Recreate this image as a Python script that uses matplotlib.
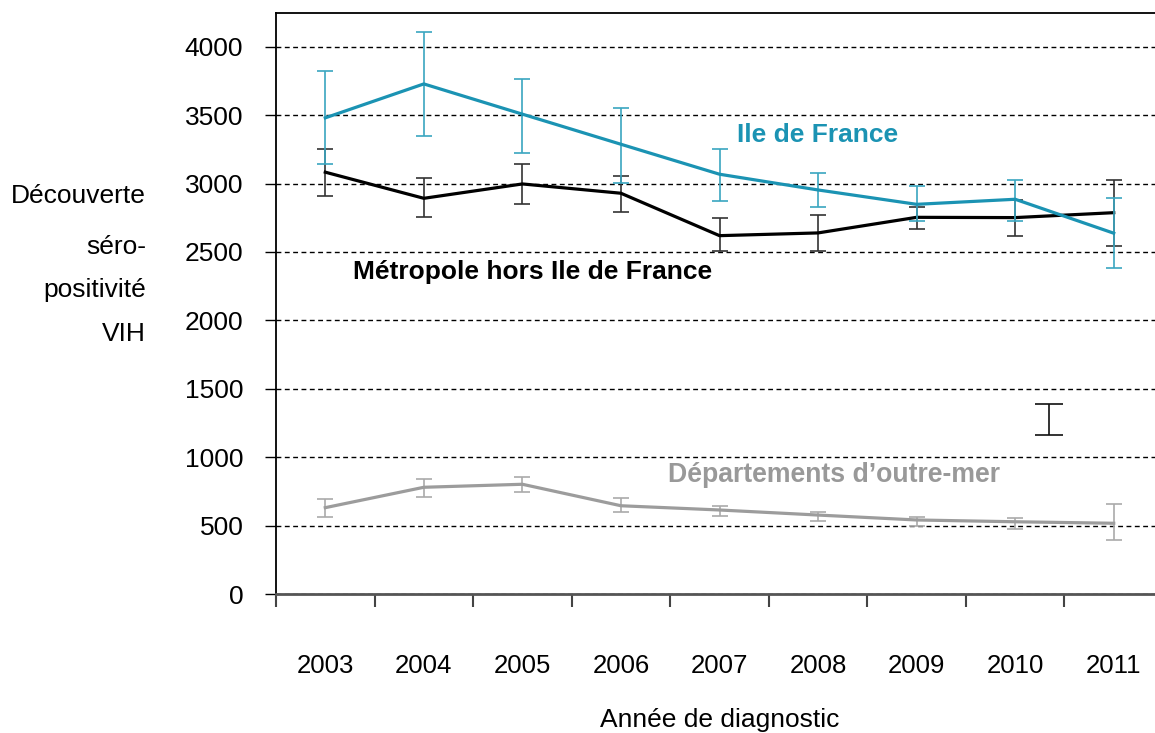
import numpy as np
import matplotlib.pyplot as plt

plt.rcParams['font.family'] = ['Liberation Sans', 'DejaVu Sans']

years = ["2003", "2004", "2005", "2006", "2007", "2008", "2009", "2010", "2011"]

idf = [3480, 3728, 3507, 3287, 3068, 2953, 2848, 2885, 2637]
idf_hi = [3823, 4110, 3762, 3550, 3255, 3077, 2985, 3026, 2895]
idf_lo = [3141, 3350, 3221, 3007, 2873, 2829, 2724, 2729, 2381]

metro = [3083, 2892, 2997, 2929, 2619, 2639, 2753, 2751, 2787]
metro_hi = [3256, 3043, 3143, 3053, 2751, 2768, 2831, 2880, 3026]
metro_lo = [2907, 2754, 2853, 2795, 2510, 2505, 2670, 2619, 2544]

dom = [631, 780, 802, 645, 614, 577, 541, 528, 517]
dom_hi = [697, 841, 858, 704, 641, 602, 565, 558, 656]
dom_lo = [563, 709, 748, 602, 572, 534, 499, 475, 393]

# stray error bar drawn alone on the chart
stray_x = [7.34]
stray_y = [1275]
stray_err = [112]

x = np.arange(len(years))

fig = plt.figure(figsize=(11.55, 7.33), dpi=100)
ax = fig.add_axes([276 / 1155, 139 / 733, 887 / 1155, 581.5 / 733])

def draw(vals, hi, lo, line_c, err_c, z):
    vals = np.array(vals)
    yerr = [vals - np.array(lo), np.array(hi) - vals]
    ax.errorbar(x, vals, yerr=yerr, fmt='none', ecolor=err_c, elinewidth=1.2,
                capsize=6, capthick=1.2, zorder=z)
    ax.plot(x, vals, color=line_c, lw=2.3, zorder=z + 0.5)

draw(dom, dom_hi, dom_lo, '#9c9c9c', '#aaaaaa', 3)
draw(metro, metro_hi, metro_lo, '#000000', '#333333', 4)
draw(idf, idf_hi, idf_lo, '#1b93b3', '#3aa6c0', 5)

ax.errorbar(stray_x, stray_y, yerr=stray_err, fmt='none', ecolor='#111111',
            elinewidth=1.2, capsize=10, capthick=1.2)

ax.text(4.175, 3355, "Ile de France", color='#1b93b3', fontsize=19,
        fontweight='bold', ha='left', va='center')
ax.text(0.28, 2354, "Métropole hors Ile de France", color='black', fontsize=19,
        fontweight='bold', ha='left', va='center')
ax.text(3.476, 870, "Départements d\u2019outre-mer", color='#999999', fontsize=19.2,
        fontweight='bold', ha='left', va='center')

ax.set_xlim(-0.5, 8.5)
ax.set_ylim(0, 4250)
ax.set_yticks(range(0, 4001, 500))
ax.yaxis.grid(True, ls=(0, (3.5, 2.5)), color='black', lw=1)
ax.set_axisbelow(True)
ax.tick_params(axis='y', length=8, width=1, direction='out', pad=15.5, labelsize=19)

ax.set_xticks(x)
ax.set_xticklabels(years)
ax.set_xticks(np.arange(-0.5, 9, 1), minor=True)
ax.tick_params(axis='x', which='major', length=0, pad=43, labelsize=18.5)
ax.tick_params(axis='x', which='minor', length=9, width=1.5, color='#444444')

for s in ['left', 'top']:
    ax.spines[s].set_color('black')
    ax.spines[s].set_linewidth(1.3)
ax.spines['bottom'].set_color('#555555')
ax.spines['bottom'].set_linewidth(2)
ax.spines['right'].set_visible(False)

ax.set_xlabel("Année de diagnostic", fontsize=19, labelpad=22)

for txt, yy in zip(["Découverte", "séro-", "positivité", "VIH"], [196, 247, 290, 334]):
    fig.text(146 / 1155, 1 - yy / 733, txt, fontsize=19, ha='right', va='center')

fig.savefig("out.png", dpi=100)
